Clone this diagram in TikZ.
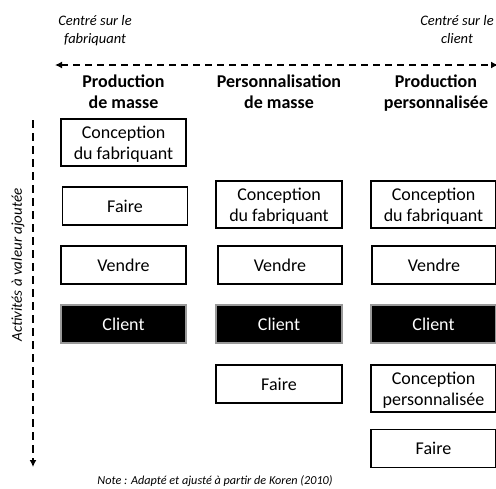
\documentclass[tikz,border=0pt]{standalone}
\usepackage{fontspec}
\setmainfont{Carlito}
\usetikzlibrary{arrows.meta}
\newcommand\mystrut{\rule[-4.5pt]{0pt}{21pt}}
\begin{document}
\begin{tikzpicture}[x=1pt,y=-1pt,
  box/.style={draw=black,line width=1.2pt,minimum width=125pt,align=center,inner sep=0pt,font=\fontsize{18}{21}\selectfont},
  onebox/.style={box,minimum height=38pt},
  twobox/.style={box,minimum height=47pt},
  clientbox/.style={onebox,fill=black,draw=black!40,text=white},
  head/.style={align=center,font=\fontsize{18}{21}\selectfont\bfseries},
  side/.style={align=center,font=\fontsize{14.5}{18}\selectfont\itshape}
]
\useasboundingbox (0,0) rectangle (496,488);
\node[side] (lt) at (95,31) {\strut Centré sur le\\\strut fabriquant};
\node[side] (rt) at (457,31) {\strut Centré sur le\\\strut client};
\coordinate (hl) at (55,65);
\coordinate (hr) at (498,65);
\draw[line width=2.2pt,dash pattern=on 7pt off 5pt,{Latex[length=7pt,width=7pt]}-{Latex[length=7pt,width=7pt]}] (hl) -- (hr);
\node[head] (h1) at (123.5,94) {\strut Production\\\strut de masse};
\node[head] (h2) at (279,94) {\strut Personnalisation\\\strut de masse};
\node[head] (h3) at (436,94) {\strut Production\\\strut personnalisée};
\coordinate (vt) at (33,120);
\coordinate (vb) at (33,467);
\draw[line width=2.3pt,dash pattern=on 8pt off 5pt,-{Latex[length=7pt,width=7pt]}] (vt) -- (vb);
\node[side,font=\fontsize{15}{18}\selectfont\itshape,rotate=90] (vl) at (18,265) {Activités à valeur ajoutée};
% column 1
\node[twobox] (a1) at (123.5,142.5) {\mystrut Conception\\\mystrut du fabriquant};
\node[onebox] (a2) at (125,206) {\mystrut Faire};
\node[onebox] (a3) at (123.5,265) {\mystrut Vendre};
\node[clientbox] (a4) at (123.5,324) {\mystrut Client};
% column 2
\node[twobox,minimum width=126pt] (b1) at (279,204.5) {\mystrut Conception\\\mystrut du fabriquant};
\node[onebox,minimum width=124pt] (b2) at (280,265) {\mystrut Vendre};
\node[clientbox,minimum width=126pt] (b3) at (279,324) {\mystrut Client};
\node[onebox,minimum width=126pt] (b4) at (279,384) {\mystrut Faire};
% column 3
\node[twobox] (c1) at (433.5,204.5) {\mystrut Conception\\\mystrut du fabriquant};
\node[onebox,minimum width=124pt] (c2) at (434,265) {\mystrut Vendre};
\node[clientbox] (c3) at (433.5,324) {\mystrut Client};
\node[twobox] (c4) at (433.5,388.5) {\mystrut Conception\\\mystrut personnalisée};
\node[onebox] (c5) at (433.5,448.5) {\mystrut Faire};
\node[font=\fontsize{12.2}{14}\selectfont\itshape] (note) at (215,481) {Note : Adapté et ajusté à partir de Koren (2010)};
\end{tikzpicture}
\end{document}
